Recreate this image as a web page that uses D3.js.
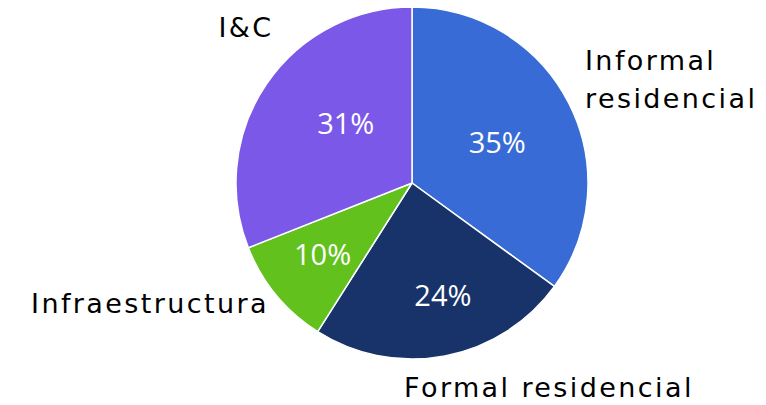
<!DOCTYPE html>
<html><head><meta charset="utf-8">
<script src="https://cdn.jsdelivr.net/npm/d3@7"></script>
<style>body{margin:0;background:#fff}svg{display:block}</style>
</head><body>
<svg id="c" width="766" height="405"></svg>
<script>
const categories = ["Informal residencial", "Formal residencial", "Infraestructura", "I&C"];
const values = [35, 24, 10, 31];
const colors = ["#386BD5", "#18336A", "#62C11D", "#7B58E8"];
const labelLines = [["Informal", "residencial"], ["Formal residencial"], ["Infraestructura"], ["I&C"]];

const W = 766, H = 405, cx = 412, cy = 183, R = 176;
const svg = d3.select("#c");
const g = svg.append("g").attr("transform", `translate(${cx},${cy})`);
const pie = d3.pie().sort(null).value(d => d)(values);
const arc = d3.arc().innerRadius(0).outerRadius(R);

g.selectAll("path").data(pie).join("path")
  .attr("d", arc).attr("fill", (d, i) => colors[i])
  .attr("stroke", "#fff").attr("stroke-width", 1.5).attr("stroke-linejoin", "round");

// percentage label layout (radius fraction, angle shift in degrees)
const pctLayout = [[0.535, 1.8], [0.665, -4.5], [0.65, 1], [0.505, 7.6]];
g.selectAll("text.pct").data(pie).join("text")
  .attr("class", "pct")
  .attr("transform", (d, i) => {
    const a = (d.startAngle + d.endAngle) / 2 + pctLayout[i][1] * Math.PI / 180, r = R * pctLayout[i][0];
    return `translate(${r * Math.sin(a)},${-r * Math.cos(a)})`;
  })
  .attr("text-anchor", "middle").attr("dy", "0.36em")
  .attr("fill", "#fff").attr("font-family", "'Open Sans', sans-serif").attr("font-size", 29)
  .text(d => d.value + "%");

// category label layout, relative to pie centre
const lab = [
  {x: 173, y: -113, anchor: "start"},
  {x: -8, y: 214, anchor: "start"},
  {x: -143, y: 130, anchor: "end"},
  {x: -166, y: -146, anchor: "middle"}
];
pie.forEach((d, i) => {
  const x = lab[i].x, y = lab[i].y;
  const t = g.append("text").attr("x", x).attr("y", y)
    .attr("text-anchor", lab[i].anchor)
    .attr("font-family", "'DejaVu Sans', sans-serif").attr("font-size", 27)
    .attr("letter-spacing", 2.4).attr("fill", "#000");
  labelLines[i].forEach((ln, j) => t.append("tspan").attr("x", x).attr("dy", j ? 38 : 0).text(ln));
});
</script>
</body></html>
